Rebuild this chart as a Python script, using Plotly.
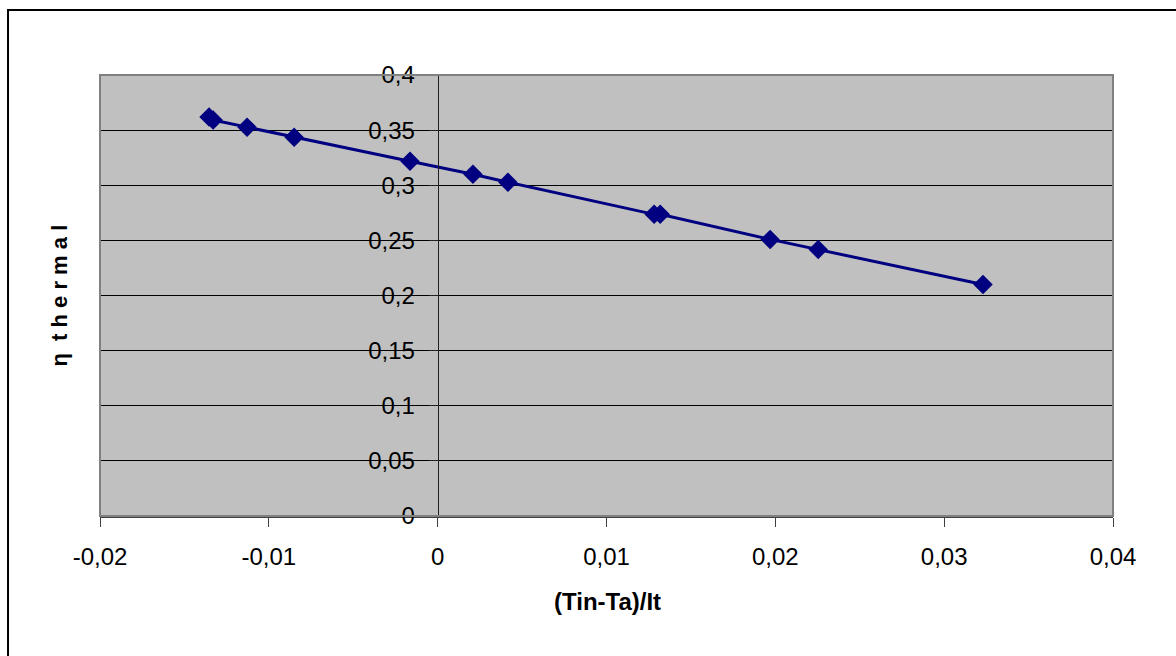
import plotly.graph_objects as go

# Measured collector efficiency against reduced temperature difference
x_vals = [-0.01354, -0.0133, -0.01129, -0.0085, -0.00164, 0.00209, 0.00416,
          0.01282, 0.01318, 0.01969, 0.02254, 0.0323]
eta_vals = [0.3618, 0.3591, 0.3527, 0.3436, 0.3218, 0.310, 0.3027,
            0.2736, 0.2736, 0.2509, 0.2418, 0.210]

x_ticks = [-0.02, -0.01, 0, 0.01, 0.02, 0.03, 0.04]
x_tick_labels = ["-0,02", "-0,01", "0", "0,01", "0,02", "0,03", "0,04"]
y_ticks = [0, 0.05, 0.1, 0.15, 0.2, 0.25, 0.3, 0.35, 0.4]
y_tick_labels = ["0", "0,05", "0,1", "0,15", "0,2", "0,25", "0,3", "0,35", "0,4"]

FONT = "Liberation Sans, Arial, sans-serif"
NAVY = "#000080"

fig = go.Figure()
fig.add_trace(go.Scatter(
    x=x_vals, y=eta_vals, mode="lines+markers",
    line=dict(color=NAVY, width=3),
    marker=dict(symbol="diamond", size=15, color=NAVY),
    showlegend=False,
))

x_min, x_max = -0.02, 0.04
# y axis crosses the x axis at zero
y_axis_pos = (0 - x_min) / (x_max - x_min)

fig.update_layout(
    width=1176, height=656,
    margin=dict(l=100, r=63, t=75, b=140),
    paper_bgcolor="white",
    plot_bgcolor="#C0C0C0",
    font=dict(family=FONT, size=24, color="black"),
    xaxis=dict(
        range=[x_min, x_max], tickvals=x_ticks, ticktext=x_tick_labels,
        showgrid=False, zeroline=False, showline=True, linecolor="#404040",
        linewidth=2, ticks="outside", ticklen=9, tickcolor="#404040",
        tickwidth=1, tickfont=dict(size=24), ticklabelstandoff=9,
    ),
    yaxis=dict(
        range=[0, 0.4], tickvals=y_ticks, ticktext=y_tick_labels,
        anchor="free", position=y_axis_pos,
        showgrid=True, gridcolor="black", gridwidth=1, zeroline=False,
        showline=True, linecolor="#202020", linewidth=1,
        ticks="outside", ticklen=9, tickcolor="#202020", tickwidth=1,
        tickfont=dict(size=24), ticklabelstandoff=9,
    ),
    shapes=[
        # plot area frame
        dict(type="rect", xref="paper", yref="paper", x0=0, x1=1, y0=0, y1=1,
             line=dict(color="#808080", width=2), layer="above"),
        # chart area frame
        dict(type="rect", xref="paper", yref="paper", x0=-0.0908, x1=1.3,
             y0=-0.6, y1=1.1474, line=dict(color="black", width=2),
             layer="above"),
    ],
    annotations=[
        dict(text="<b>(Tin-Ta)/It</b>", xref="paper", yref="paper",
             x=0.5005, y=-0.229, showarrow=False,
             font=dict(size=24, family=FONT)),
        dict(text="<b>η  t h e r m a l</b>", xref="paper", yref="paper",
             x=-0.0543, y=0.501, showarrow=False, textangle=-90,
             font=dict(size=22, family=FONT)),
    ],
)

fig.write_html("out.html")
